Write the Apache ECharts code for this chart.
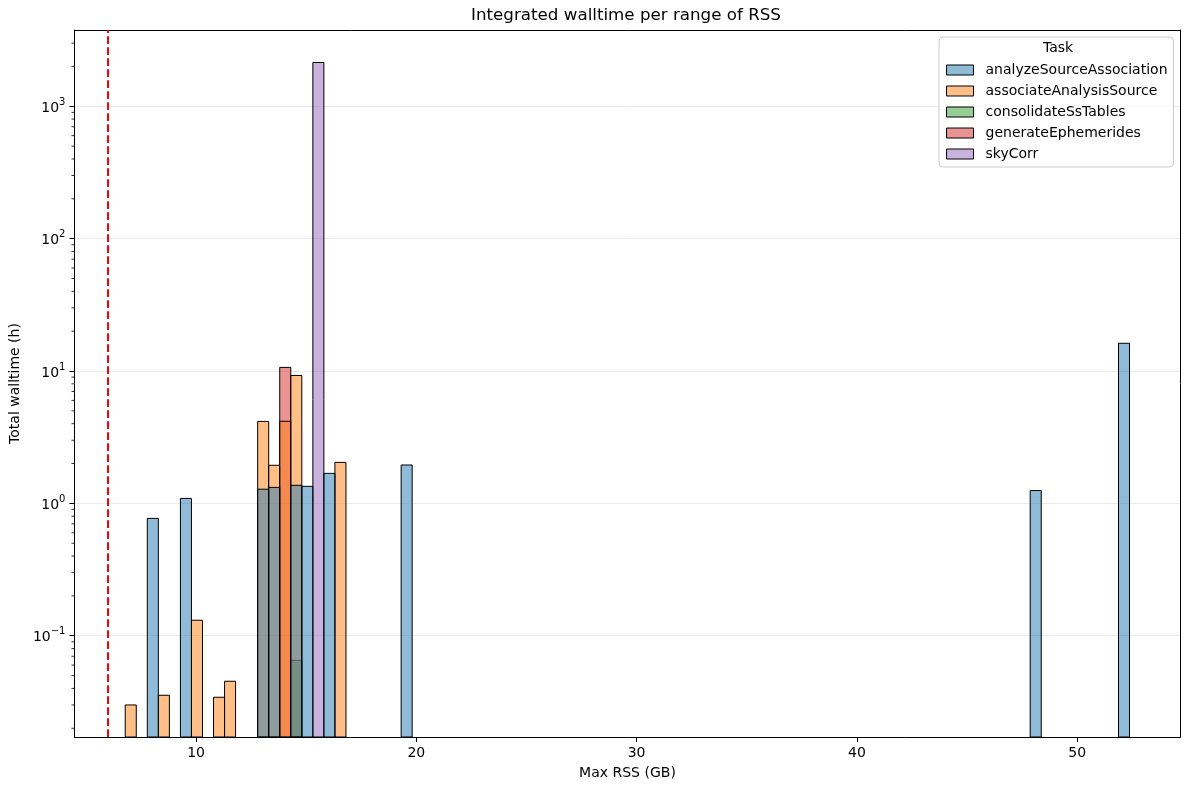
<!DOCTYPE html>
<html>
<head>
<meta charset="utf-8">
<script src="https://cdn.jsdelivr.net/npm/echarts@6/dist/echarts.min.js"></script>
<style>
  html, body { margin: 0; padding: 0; background: #fff; }
  #chart { width: 1189px; height: 790px; }
</style>
</head>
<body>
<div id="chart"></div>
<script>
// ---- Data ----
const tasks = ['analyzeSourceAssociation', 'associateAnalysisSource', 'consolidateSsTables', 'generateEphemerides', 'skyCorr'];
const binStart = 6.785;   // GB, left edge of first histogram bin
const binWidth = 0.501;   // GB

const analyzeBins  = [2, 5, 12, 13, 15, 16, 18, 25, 82, 90];
const analyzeHours = [0.77, 1.09, 1.28, 1.32, 1.37, 1.345, 1.685, 1.95, 1.25, 16.2];

const associateBins  = [0, 3, 6, 8, 9, 12, 13, 14, 15, 19];
const associateHours = [0.030, 0.0355, 0.131, 0.0343, 0.0453, 4.16, 1.94, 4.17, 9.25, 2.04];

const consolidateBins  = [15];
const consolidateHours = [0.0652];

const ephemeridesBins  = [14];
const ephemeridesHours = [10.65];

const skyCorrBins  = [17];
const skyCorrHours = [2142];

const threshold = 6; // GB, red dashed line

// ---- Axis ranges ----
const xMin = 4.48, xMax = 54.69;
const yMin = 0.01718, yMax = 3770;

const colors = {
  analyzeSourceAssociation: 'rgba(31,119,180,0.5)',
  associateAnalysisSource: 'rgba(255,127,14,0.5)',
  consolidateSsTables: 'rgba(44,160,44,0.5)',
  generateEphemerides: 'rgba(214,39,40,0.5)',
  skyCorr: 'rgba(148,103,189,0.5)'
};

const seriesData = {
  analyzeSourceAssociation: [analyzeBins, analyzeHours],
  associateAnalysisSource: [associateBins, associateHours],
  consolidateSsTables: [consolidateBins, consolidateHours],
  generateEphemerides: [ephemeridesBins, ephemeridesHours],
  skyCorr: [skyCorrBins, skyCorrHours]
};

// minor tick values for log axis (2..9 x 10^n)
const minorTicks = [];
for (let e = -2; e <= 3; e++) {
  for (let m = 2; m <= 9; m++) {
    const v = m * Math.pow(10, e);
    if (v > yMin && v < yMax) minorTicks.push([xMin, v]);
  }
}

const FONT = 'DejaVu Sans';

function renderBar(params, api) {
  const x0 = api.value(0);
  const v = api.value(1);
  const tl = api.coord([x0, v]);
  const br = api.coord([x0 + binWidth, yMin]);
  return {
    type: 'rect',
    shape: { x: tl[0], y: tl[1], width: br[0] - tl[0], height: br[1] - tl[1] },
    style: api.style()
  };
}

function renderMinorTick(params, api) {
  const p = api.coord([api.value(0), api.value(1)]);
  return {
    type: 'line',
    shape: { x1: p[0] - 3, y1: p[1], x2: p[0], y2: p[1] },
    style: { stroke: '#000', lineWidth: 0.8 }
  };
}

function yLabel(value) {
  const e = Math.round(Math.log10(value));
  const s = String(e).replace('-', '\u2212');
  return '{b|10}{s|' + s + '}';
}

// draw order: last task at bottom, first task on top
const drawOrder = tasks.slice().reverse();
const series = drawOrder.map(function (name) {
  const pair = seriesData[name];
  const data = pair[0].map(function (b, i) { return [binStart + b * binWidth, pair[1][i]]; });
  return {
    name: name,
    type: 'custom',
    coordinateSystem: 'cartesian2d',
    renderItem: renderBar,
    encode: { x: 0, y: 1 },
    itemStyle: { color: colors[name], borderColor: '#000', borderWidth: 1 },
    data: data
  };
});

series.push({
  name: 'minorTicks',
  type: 'custom',
  coordinateSystem: 'cartesian2d',
  renderItem: renderMinorTick,
  encode: { x: 0, y: 1 },
  clip: false,
  silent: true,
  data: minorTicks,
  markLine: {
    symbol: ['none', 'none'],
    silent: true,
    label: { show: false },
    lineStyle: { color: '#ff0000', type: [7.7, 3.3], width: 2 },
    data: [{ xAxis: threshold }]
  }
});

const frameAxisX = {
  type: 'value', position: 'top', min: xMin, max: xMax,
  axisLine: { show: true, lineStyle: { color: '#000', width: 1 } },
  axisTick: { show: false }, axisLabel: { show: false }, splitLine: { show: false }
};
const frameAxisY = {
  type: 'log', logBase: 10, position: 'right', min: yMin, max: yMax,
  axisLine: { show: true, lineStyle: { color: '#000', width: 1 } },
  axisTick: { show: false }, axisLabel: { show: false }, splitLine: { show: false }
};

const chart = echarts.init(document.getElementById('chart'), null, { renderer: 'canvas' });
chart.setOption({
  animation: false,
  backgroundColor: '#fff',
  textStyle: { fontFamily: FONT },
  grid: { left: 72.5, right: 8.5, top: 30, bottom: 53, show: false },
  xAxis: [{
    type: 'value',
    position: 'bottom',
    min: xMin, max: xMax,
    splitNumber: 5,
    name: 'Max RSS (GB)',
    nameLocation: 'middle',
    nameGap: 29,
    nameTextStyle: { fontFamily: FONT, fontSize: 14, color: '#000' },
    axisLine: { show: true, onZero: false, lineStyle: { color: '#000', width: 1 } },
    axisTick: { show: true, length: 5, lineStyle: { color: '#000', width: 1 } },
    axisLabel: { showMinLabel: false, showMaxLabel: false, margin: 9, fontFamily: FONT, fontSize: 14, color: '#000' },
    splitLine: { show: false }
  }, frameAxisX],
  yAxis: [{
    type: 'log',
    logBase: 10,
    position: 'left',
    min: yMin, max: yMax,
    name: 'Total walltime (h)',
    nameLocation: 'middle',
    nameGap: 49,
    nameTextStyle: { fontFamily: FONT, fontSize: 14, color: '#000' },
    axisLine: { show: true, onZero: false, lineStyle: { color: '#000', width: 1 } },
    axisTick: { show: true, length: 5, lineStyle: { color: '#000', width: 1 } },
    axisLabel: {
      showMinLabel: false, showMaxLabel: false, margin: 9,
      formatter: yLabel,
      rich: {
        b: { fontFamily: FONT, fontSize: 14, color: '#000', lineHeight: 18, verticalAlign: 'bottom' },
        s: { fontFamily: FONT, fontSize: 10, color: '#000', lineHeight: 10, verticalAlign: 'top' }
      }
    },
    splitLine: { show: true, lineStyle: { color: '#ebebeb', width: 1 } }
  }, frameAxisY],
  legend: {
    data: tasks.map(function (t) {
      return { name: t, icon: 'rect', itemStyle: { color: colors[t], borderColor: '#000', borderWidth: 1 } };
    }),
    orient: 'vertical',
    right: 15.5,
    top: 37,
    itemWidth: 27,
    itemHeight: 10,
    itemGap: 5,
    padding: [25, 6, 5, 7],
    backgroundColor: 'rgba(255,255,255,0.8)',
    borderColor: '#cccccc',
    borderWidth: 1,
    borderRadius: 4,
    textStyle: { fontFamily: FONT, fontSize: 14, color: '#000', lineHeight: 16, padding: [0, 0, 0, 7] },
    selectedMode: false
  },
  graphic: [
    {
      type: 'text', z: 100,
      x: 626, y: 16,
      style: { text: 'Integrated walltime per range of RSS', font: '16.7px "DejaVu Sans"', fill: '#000', textAlign: 'center', textVerticalAlign: 'middle' }
    },
    {
      type: 'text', z: 100,
      x: 1058, y: 48,
      style: { text: 'Task', font: '14px "DejaVu Sans"', fill: '#000', textAlign: 'center', textVerticalAlign: 'middle' }
    }
  ],
  series: series
});
</script>
</body>
</html>
